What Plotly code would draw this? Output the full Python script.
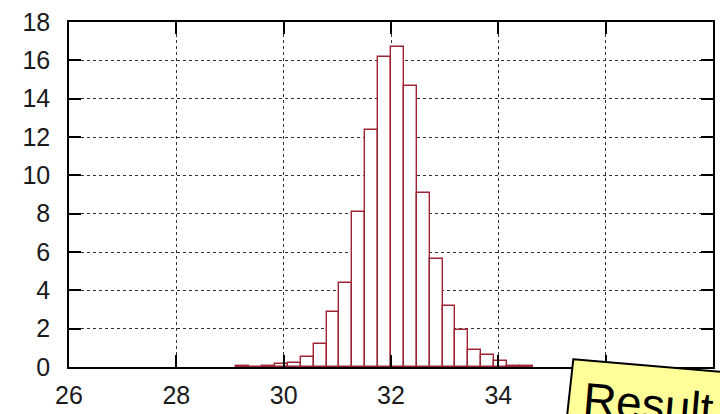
import plotly.graph_objects as go

# Histogram data (bin width 0.24)
bin_left_edges = [29.12, 29.36, 29.60, 29.84, 30.08, 30.32, 30.56, 30.80, 31.04, 31.28,
                  31.52, 31.76, 32.00, 32.24, 32.48, 32.72, 32.96, 33.20, 33.44, 33.68,
                  33.92, 34.16, 34.40]
bin_width = 0.24
counts = [0.07, 0.0, 0.07, 0.14, 0.2, 0.54, 1.2, 2.88, 4.4, 8.1,
          12.36, 16.19, 16.71, 14.66, 9.09, 5.63, 3.18, 1.93, 0.87, 0.61,
          0.3, 0.07, 0.05]
x_ticks = [26, 28, 30, 32, 34, 36, 38]
y_ticks = [0, 2, 4, 6, 8, 10, 12, 14, 16, 18]
callout_text = "Result"

W, H = 720, 414
ML, MR, MT, MB = 69, 7, 22, 47
PW, PH = W - ML - MR, H - MT - MB

def px2paper(px, py):
    return (px - ML) / PW, (H - MB - py) / PH

centers = [e + bin_width / 2 for e in bin_left_edges]

fig = go.Figure()
fig.add_trace(go.Bar(
    x=centers, y=counts, width=[bin_width] * len(counts),
    marker=dict(color="white", line=dict(color="#9c2433", width=1.4)),
    hoverinfo="skip",
))

font = dict(family="Liberation Sans, Arial, sans-serif", size=25, color="#1a1a1a")
axis_common = dict(
    showline=True, linecolor="black", linewidth=1.5, mirror="ticks",
    ticks="inside", ticklen=12, tickwidth=1.5, tickcolor="black",
    showgrid=True, gridcolor="#333333", gridwidth=1, griddash="dot",
    zeroline=False, tickfont=font, automargin=False,
)
fig.update_xaxes(range=[26, 38], tickvals=x_ticks, ticklabelstandoff=5, **axis_common)
fig.update_yaxes(range=[0, 18], tickvals=y_ticks, ticklabelstandoff=12, **axis_common)

# yellow callout box (slightly rotated)
pts = [(573.3, 359.3), (760, 375.1), (760, 440), (564.4, 440)]
path = "M " + " L ".join(f"{px2paper(a, b)[0]:.5f},{px2paper(a, b)[1]:.5f}" for a, b in pts) + " Z"
fig.add_shape(type="path", path=path, xref="paper", yref="paper",
              fillcolor="#ffff99", line=dict(color="black", width=2), layer="above")
cx, cy = px2paper(648, 404)
fig.add_annotation(text=callout_text, x=cx, y=cy, xref="paper", yref="paper",
                   showarrow=False, textangle=4.8, xanchor="center", yanchor="middle",
                   font=dict(family="Liberation Sans, Arial, sans-serif", size=46, color="black"))

fig.update_layout(
    width=W, height=H, margin=dict(l=ML, r=MR, t=MT, b=MB),
    paper_bgcolor="white", plot_bgcolor="white",
    bargap=0, showlegend=False,
)
fig.write_html("out.html")
